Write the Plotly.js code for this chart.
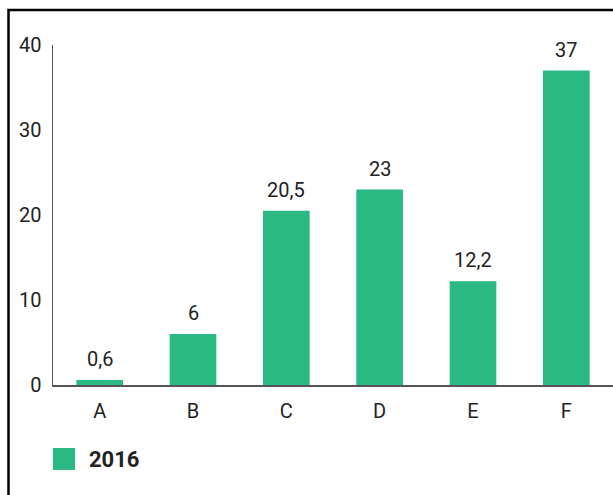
<!DOCTYPE html>
<html>
<head>
<meta charset="utf-8">
<script src="https://cdn.plot.ly/plotly-3.0.1.min.js"></script>
<style>
html,body{margin:0;padding:0;background:#fff;overflow:hidden;}
#chart{width:613px;height:495px;}
</style>
</head>
<body>
<div id="chart"></div>
<script>
const categories = ['A', 'B', 'C', 'D', 'E', 'F'];
const values2016 = [0.6, 6, 20.5, 23, 12.2, 37];
const seriesName = '2016';
const yTicks = [0, 10, 20, 30, 40];

const barColor = '#2ab883';
const textColor = '#222222';
const fontFamily = 'Roboto, "Open Sans", sans-serif';

const fmt = v => String(v).replace('.', ',');

const trace = {
  type: 'bar',
  x: categories,
  y: values2016,
  name: seriesName,
  marker: {color: barColor},
  width: 0.5,
  showlegend: false,
  hoverinfo: 'x+y'
};

const annotations = categories.map((c, i) => ({
  x: c, y: values2016[i], xref: 'x', yref: 'y',
  text: fmt(values2016[i]), showarrow: false,
  yanchor: 'bottom', yshift: 7,
  font: {family: fontFamily, size: 20, color: textColor}
}));

// legend drawn as swatch + label
annotations.push({
  xref: 'paper', yref: 'paper',
  x: (87 - 53) / 560, y: (385 - 459) / 340,
  xanchor: 'left', yanchor: 'middle',
  text: '<b>' + seriesName + '</b>', showarrow: false,
  font: {family: fontFamily, size: 22, color: textColor}
});

const shapes = [
  {
    type: 'rect', xref: 'paper', yref: 'paper',
    x0: (53 - 53) / 560, x1: (75 - 53) / 560,
    y0: (385 - 470) / 340, y1: (385 - 448) / 340,
    fillcolor: barColor, line: {width: 0}
  },
  {
    type: 'rect', xref: 'paper', yref: 'paper',
    x0: (8.5 - 53) / 560, x1: 1.3,
    y0: -0.6, y1: (385 - 10) / 340,
    fillcolor: 'rgba(0,0,0,0)', line: {color: '#000', width: 2.5}
  }
];

const layout = {
  width: 613, height: 495,
  margin: {l: 53, r: 0, t: 45, b: 110, pad: 0},
  paper_bgcolor: '#fff', plot_bgcolor: '#fff',
  font: {family: fontFamily, size: 20, color: textColor},
  separators: ',.',
  bargap: 0.5,
  xaxis: {
    type: 'category',
    showline: true, linecolor: '#555', linewidth: 1.5,
    showgrid: false, zeroline: false,
    ticks: 'outside', ticklen: 7, tickcolor: 'rgba(0,0,0,0)',
    tickfont: {family: fontFamily, size: 20, color: textColor}
  },
  yaxis: {
    range: [0, 40],
    tickvals: yTicks,
    ticktext: yTicks.map(String),
    showline: true, linecolor: '#555', linewidth: 1.5,
    showgrid: false, zeroline: false,
    ticks: 'outside', ticklen: 6, tickcolor: 'rgba(0,0,0,0)',
    tickfont: {family: fontFamily, size: 20, color: textColor}
  },
  showlegend: false,
  annotations: annotations,
  shapes: shapes
};

Plotly.newPlot('chart', [trace], layout, {displayModeBar: false, staticPlot: true});
</script>
</body>
</html>
